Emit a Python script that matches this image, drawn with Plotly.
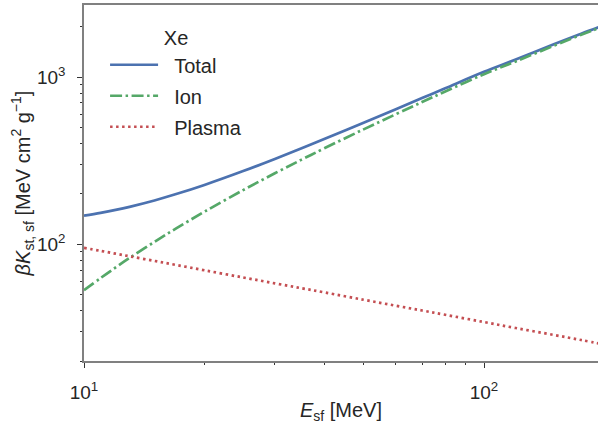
import plotly.graph_objects as go

# Energy grid [MeV]
energy = [10, 11, 12, 13, 15, 17, 20, 25, 30, 35, 40, 50, 60, 70, 80, 100, 120, 150, 175, 200]
# Stopping values [MeV cm^2 g^-1]
ion = [53.0, 62.7, 72.6, 82.7, 103.2, 124.3, 156.4, 210.7, 265.5, 320.6, 375.8, 486.4,
       597, 708, 820, 1040, 1240, 1545, 1790, 2020]
plasma = [95.0, 91.2, 87.7, 84.6, 79.4, 75.1, 69.8, 63.2, 58.3, 54.5, 51.4, 46.5,
          42.9, 40.1, 37.8, 34.2, 31.5, 28.6, 26.7, 25.1]
total = [148.0, 153.9, 160.3, 167.3, 182.6, 199.4, 226.2, 273.9, 323.8, 375.1, 427.2, 532.9,
         640, 748, 857, 1075, 1272, 1574, 1817, 2045]
series_names = ["Total", "Ion", "Plasma"]

x_major = [10, 100]
x_major_text = ["10<sup>1</sup>", "10<sup>2</sup>"]
x_minor = [20, 30, 40, 50, 60, 70, 80, 90, 200]
y_major = [100, 1000]
y_major_text = ["10<sup>2</sup>", "10<sup>3</sup>"]
y_minor = [20, 30, 40, 50, 60, 70, 80, 90, 200, 300, 400, 500, 600, 700, 800, 900, 2000]

FONT = "Liberation Sans, Arial, sans-serif"
TXT = "#262626"
PAD = "\u00a0\u00a0"

fig = go.Figure()
fig.add_trace(go.Scatter(x=energy, y=total, mode="lines", name=PAD + series_names[0], legendgroup="a",
                         line=dict(color="#4C72B0", width=2.7, shape="spline")))
fig.add_trace(go.Scatter(x=energy, y=ion, mode="lines", name=PAD + series_names[1], legendgroup="b",
                         line=dict(color="#55A868", width=2.7, shape="spline",
                                   dash="12px,3.5px,2.5px,3.5px")))
fig.add_trace(go.Scatter(x=energy, y=plasma, mode="lines", name=PAD + series_names[2], legendgroup="c",
                         line=dict(color="#C44E52", width=2.7, shape="spline",
                                   dash="2.5px,3.5px")))

fig.update_layout(
    width=598, height=424,
    margin=dict(l=84, r=0, t=5, b=63, autoexpand=False),
    paper_bgcolor="white", plot_bgcolor="white",
    font=dict(family=FONT, size=19, color=TXT),
    showlegend=True,
    legend=dict(
        x=0.041, y=0.96, xanchor="left", yanchor="top",
        bgcolor="rgba(0,0,0,0)", borderwidth=0,
        font=dict(family=FONT, size=20, color=TXT),
        title=dict(text="Xe", side="top center", font=dict(family=FONT, size=20, color=TXT)),
        tracegroupgap=2, itemwidth=48,
    ),
)

fig.update_xaxes(
    type="log", range=[1, 1 + 514 / 400], automargin=False,
    showgrid=False, zeroline=False,
    showline=True, linecolor="#808080", linewidth=1.5, mirror=True,
    ticks="outside", ticklen=5, tickwidth=1.2, tickcolor="#333333",
    tickmode="array", tickvals=x_major, ticktext=x_major_text,
    tickfont=dict(family=FONT, size=19, color=TXT), ticklabelstandoff=8,
    minor=dict(ticks="outside", ticklen=2.5, tickwidth=1, tickcolor="#333333",
               tickmode="array", tickvals=x_minor, showgrid=False),
    title=dict(text="<i>E</i><sub>sf</sub> [MeV]", font=dict(family=FONT, size=20, color=TXT),
               standoff=2),
)
fig.update_yaxes(
    type="log", range=[1.30103, 3.431], automargin=False,
    showgrid=False, zeroline=False,
    showline=True, linecolor="#808080", linewidth=1.5, mirror=False,
    ticks="outside", ticklen=5, tickwidth=1.2, tickcolor="#333333",
    tickmode="array", tickvals=y_major, ticktext=y_major_text,
    tickfont=dict(family=FONT, size=19, color=TXT), ticklabelstandoff=8,
    minor=dict(ticks="outside", ticklen=2.5, tickwidth=1, tickcolor="#333333",
               tickmode="array", tickvals=y_minor, showgrid=False),
    title=dict(text="<i>βK</i><sub>st, sf</sub> [MeV cm<sup>2</sup> g<sup>−1</sup>]",
               font=dict(family=FONT, size=20, color=TXT), standoff=0),
)

fig.write_html("out.html", config={"displayModeBar": False},
               post_script="document.body.style.margin='0';document.body.style.overflow='hidden';")
